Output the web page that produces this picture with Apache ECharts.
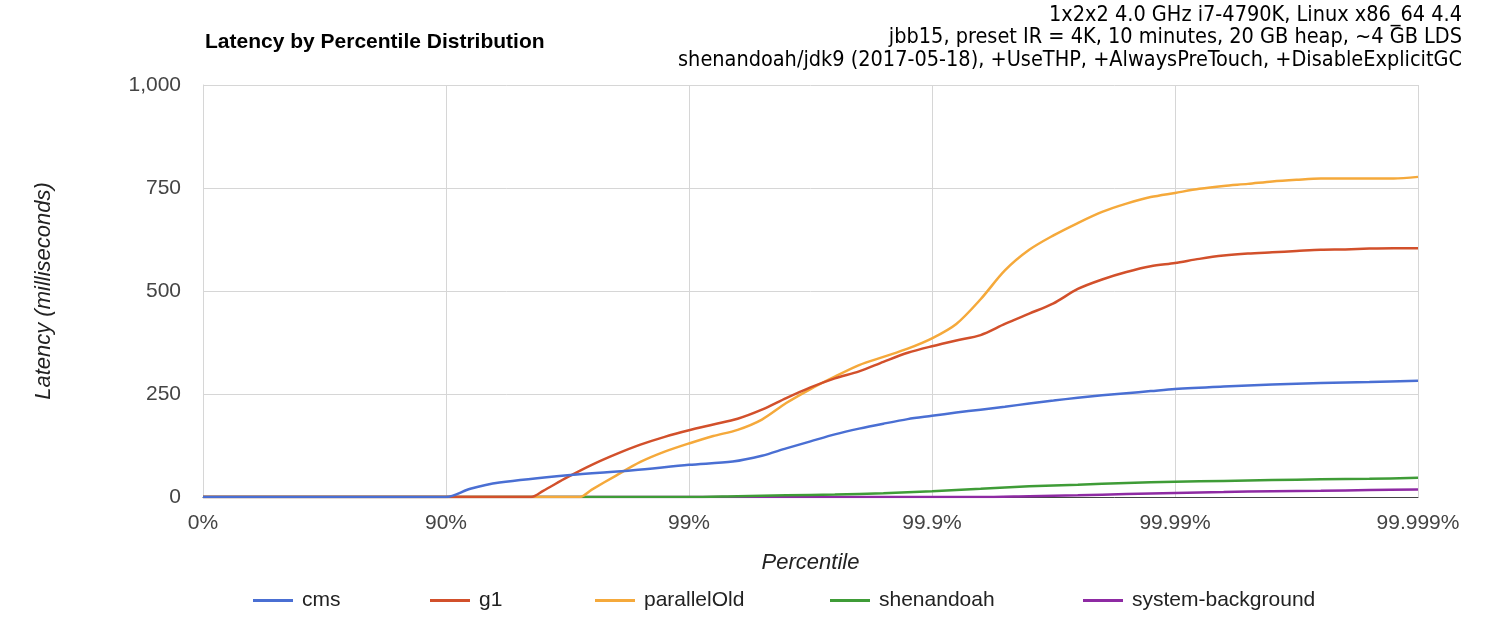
<!DOCTYPE html>
<html>
<head>
<meta charset="utf-8">
<script src="https://cdn.jsdelivr.net/npm/echarts@6/dist/echarts.min.js"></script>
<style>html,body{margin:0;padding:0;background:#fff}#c{width:1500px;height:622px}</style>
</head>
<body>
<div id="c"></div>
<script>
// x = decades of "nines": 0 -> 0%, 1 -> 90%, 2 -> 99%, 3 -> 99.9%, 4 -> 99.99%, 5 -> 99.999%
const tickLabels = ['0%', '90%', '99%', '99.9%', '99.99%', '99.999%'];
const seriesNames = ['cms', 'g1', 'parallelOld', 'shenandoah', 'system-background'];
const colors = ['#4a6fd3', '#d2502b', '#f5a93b', '#3f9c37', '#8e2aa3'];
const subtitleLines = [
  '1x2x2 4.0 GHz i7-4790K, Linux x86_64 4.4',
  'jbb15, preset IR = 4K, 10 minutes, 20 GB heap, ~4 GB LDS',
  'shenandoah/jdk9 (2017-05-18), +UseTHP, +AlwaysPreTouch, +DisableExplicitGC'
];

const cms = [[0,0],[1.0,0],[1.1,20],[1.22,35],[1.5,53],[1.77,65],[2.0,78],[2.18,86],[2.3,100],[2.4,118],[2.5,135],[2.6,152],[2.7,166],[2.8,178],[2.9,189],[3.0,197],[3.1,205],[3.2,212],[3.3,219],[3.4,227],[3.5,234],[3.6,241],[3.7,247],[3.8,252],[3.9,257],[4.0,262],[4.2,268],[4.4,273],[4.6,277],[4.8,279],[5.0,282]];
const g1 = [[0,0],[1.35,0],[1.4,15],[1.5,48],[1.6,78],[1.7,104],[1.8,127],[1.9,146],[2.0,162],[2.1,176],[2.2,190],[2.3,212],[2.4,240],[2.5,266],[2.6,288],[2.7,305],[2.8,328],[2.9,350],[3.0,366],[3.1,380],[3.2,393],[3.3,420],[3.4,445],[3.5,470],[3.6,505],[3.7,528],[3.8,546],[3.9,560],[4.0,568],[4.1,578],[4.2,586],[4.3,591],[4.4,594],[4.5,597],[4.6,600],[4.7,601],[4.8,603],[4.9,604],[5.0,604]];
const parallelOld = [[0,0],[1.55,0],[1.6,18],[1.7,52],[1.8,85],[1.9,110],[2.0,130],[2.1,148],[2.2,163],[2.3,188],[2.4,228],[2.5,262],[2.6,292],[2.7,320],[2.8,340],[2.9,360],[3.0,385],[3.1,420],[3.2,480],[3.3,550],[3.4,600],[3.5,635],[3.6,665],[3.7,692],[3.8,712],[3.9,728],[4.0,738],[4.1,748],[4.2,755],[4.3,760],[4.4,766],[4.5,770],[4.6,773],[4.7,773],[4.8,773],[4.9,773],[5.0,777]];
const shenandoah = [[0,0],[2.0,0],[2.2,2],[2.4,4],[2.6,6],[2.8,9],[3.0,14],[3.2,20],[3.4,26],[3.6,30],[3.8,34],[4.0,37],[4.2,39],[4.4,41],[4.6,43],[4.8,44],[5.0,47]];
const systemBackground = [[0,0],[3.2,0],[3.4,2],[3.6,4],[3.8,7],[4.0,10],[4.2,12],[4.4,14],[4.6,15],[4.8,17],[5.0,18]];
const allData = [cms, g1, parallelOld, shenandoah, systemBackground];

const legendLeft = [253, 430, 595, 830, 1083];

const chart = echarts.init(document.getElementById('c'));
const font = 'Liberation Sans, Arial, sans-serif';
chart.setOption({
  animation: false,
  color: colors,
  title: { text: 'Latency by Percentile Distribution', left: 200, top: 27,
    textStyle: { fontFamily: font, fontSize: 21, fontWeight: 'bold', color: '#000' } },
  graphic: subtitleLines.map((t, i) => ({
    type: 'text', right: 38, top: 4 + i * 22.5,
    style: { text: t, fontFamily: 'DejaVu Sans Condensed, DejaVu Sans, sans-serif', fontSize: 21.5, fill: '#000' }
  })),
  legend: seriesNames.map((n, i) => ({
    left: legendLeft[i], top: 590, itemWidth: 40, itemHeight: 3,
    icon: 'rect', padding: 0,
    textStyle: { fontFamily: font, fontSize: 21, color: '#222', padding: [0, 0, 0, 4] },
    data: [n]
  })),
  grid: { left: 203, right: 82, top: 85, bottom: 125, containLabel: false },
  xAxis: {
    type: 'value', min: 0, max: 5, interval: 1,
    name: 'Percentile', nameLocation: 'middle', nameGap: 55,
    nameTextStyle: { fontFamily: font, fontSize: 22, fontStyle: 'italic', color: '#222' },
    axisLine: { show: true, lineStyle: { color: '#444', width: 1 } },
    axisTick: { show: false },
    axisLabel: { formatter: v => tickLabels[Math.round(v)], margin: 16,
      fontFamily: font, fontSize: 21, color: '#444' },
    splitLine: { show: true, lineStyle: { color: '#d6d6d6', width: 1 } }
  },
  yAxis: {
    type: 'value', min: 0, max: 1000, interval: 250,
    name: 'Latency (milliseconds)', nameLocation: 'middle', nameGap: 148, nameRotate: 90,
    nameTextStyle: { fontFamily: font, fontSize: 22, fontStyle: 'italic', color: '#222' },
    axisLine: { show: true, lineStyle: { color: '#d6d6d6' } },
    axisTick: { show: false },
    axisLabel: { formatter: v => v.toLocaleString('en-US'), margin: 22,
      fontFamily: font, fontSize: 21, color: '#444' },
    splitLine: { show: true, lineStyle: { color: '#d6d6d6', width: 1 } }
  },
  series: seriesNames.map((n, i) => ({
    name: n, type: 'line', data: allData[i], showSymbol: false, smooth: 0.3,
    lineStyle: { width: 2.5, color: colors[i] }, z: 10 - i
  }))
});
</script>
</body>
</html>
